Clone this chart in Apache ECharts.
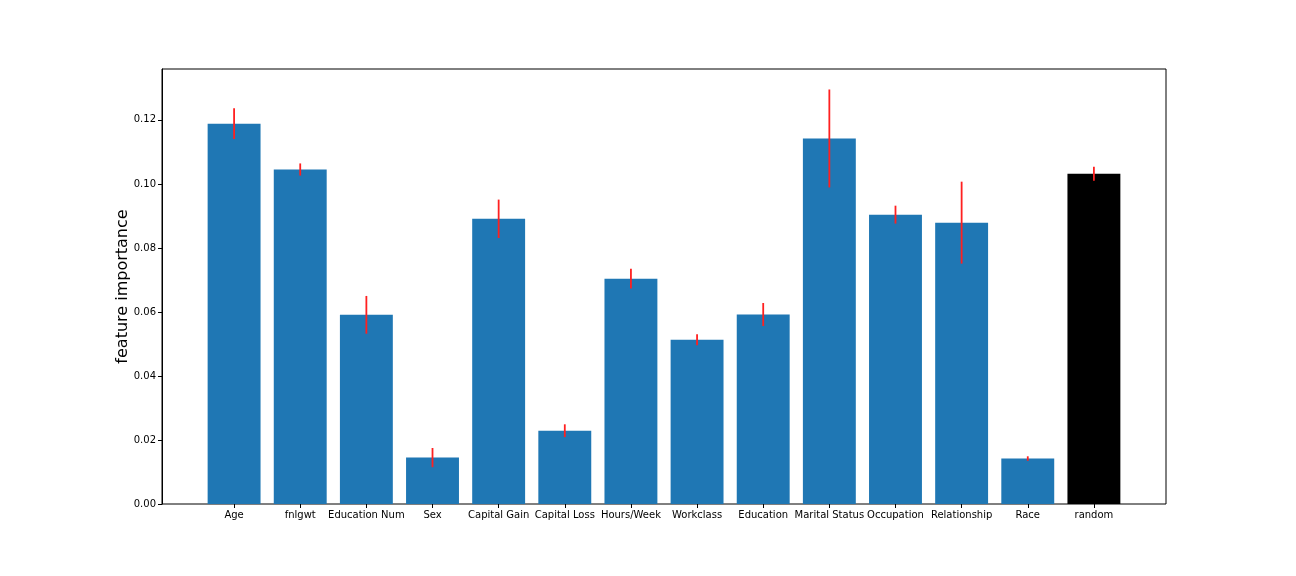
<!DOCTYPE html>
<html>
<head>
<meta charset="utf-8">
<script src="https://cdn.jsdelivr.net/npm/echarts@6/dist/echarts.min.js"></script>
<style>html,body{margin:0;padding:0;background:#fff}#c{width:1296px;height:576px}</style>
</head>
<body>
<div id="c"></div>
<script>
const categories = ['Age','fnlgwt','Education Num','Sex','Capital Gain','Capital Loss','Hours/Week','Workclass','Education','Marital Status','Occupation','Relationship','Race','random'];
const importance = [0.1188,0.1045,0.0591,0.0145,0.0891,0.0229,0.0704,0.0513,0.0592,0.1142,0.0904,0.0879,0.0142,0.1032];
const errors = [0.0048,0.0019,0.0059,0.0030,0.0060,0.0020,0.0031,0.0017,0.0036,0.0153,0.0028,0.0128,0.0007,0.0022];
const yTicks = [0, 0.02, 0.04, 0.06, 0.08, 0.10, 0.12];

const Y_MAX = 0.1359;
const font = 'DejaVu Sans';
const chart = echarts.init(document.getElementById('c'), null, {renderer: 'canvas'});

// matplotlib-style x range: bars span [-0.4, 13.4], 5% margins => [-1.09, 14.09]
const W = 1296 - 162 - 130;
const span = (categories.length - 1 + 0.8) * 1.1;
const band = W / span;
const innerLeft = 162 + (band * (span - categories.length)) / 2;

chart.setOption({
  animation: false,
  backgroundColor: '#fff',
  grid: [
    {left: 162, right: 130, top: 69, bottom: 72, show: true, borderColor: '#000', borderWidth: 1, backgroundColor: 'transparent'},
    {left: innerLeft, width: band * categories.length, top: 69, bottom: 72}
  ],
  xAxis: [
    {gridIndex: 0, type: 'value', min: 0, max: 1, show: false},
    {gridIndex: 1, type: 'category', data: categories, boundaryGap: true,
     axisLine: {show: false},
     axisTick: {show: true, alignWithLabel: true, length: 4, lineStyle: {color: '#000', width: 1}},
     axisLabel: {color: '#000', fontFamily: font, fontSize: 10, margin: 6, interval: 0}}
  ],
  yAxis: [
    {gridIndex: 0, type: 'value', min: 0, max: Y_MAX, interval: 0.02,
     name: 'feature importance', nameLocation: 'middle', nameGap: 31, nameMoveOverlap: false,
     nameTextStyle: {fontFamily: font, fontSize: 16, color: '#000'},
     axisLine: {show: true, lineStyle: {color: '#000', width: 1}},
     axisTick: {show: true, length: 4, lineStyle: {color: '#000', width: 1}},
     splitLine: {show: false},
     axisLabel: {color: '#000', fontFamily: font, fontSize: 10, margin: 6, showMaxLabel: false,
       padding: [3, 0, 0, 0],
       formatter: v => yTicks.some(t => Math.abs(t - v) < 1e-9) ? v.toFixed(2) : ''}},
    {gridIndex: 1, type: 'value', min: 0, max: Y_MAX, show: false}
  ],
  series: [
    {type: 'bar', xAxisIndex: 1, yAxisIndex: 1, barWidth: '80%',
     data: importance.map((v, i) => ({value: v, itemStyle: {color: categories[i] === 'random' ? '#000000' : '#1f77b4'}}))},
    {type: 'custom', xAxisIndex: 1, yAxisIndex: 1, z: 5,
     data: importance.map((v, i) => [i, v - errors[i], v + errors[i]]),
     renderItem: function (params, api) {
       const lo = api.coord([api.value(0), api.value(1)]);
       const hi = api.coord([api.value(0), api.value(2)]);
       return {type: 'line', shape: {x1: lo[0], y1: lo[1], x2: hi[0], y2: hi[1]},
               style: {stroke: '#ff2020', lineWidth: 1.8}};
     }}
  ]
});
</script>
</body>
</html>
